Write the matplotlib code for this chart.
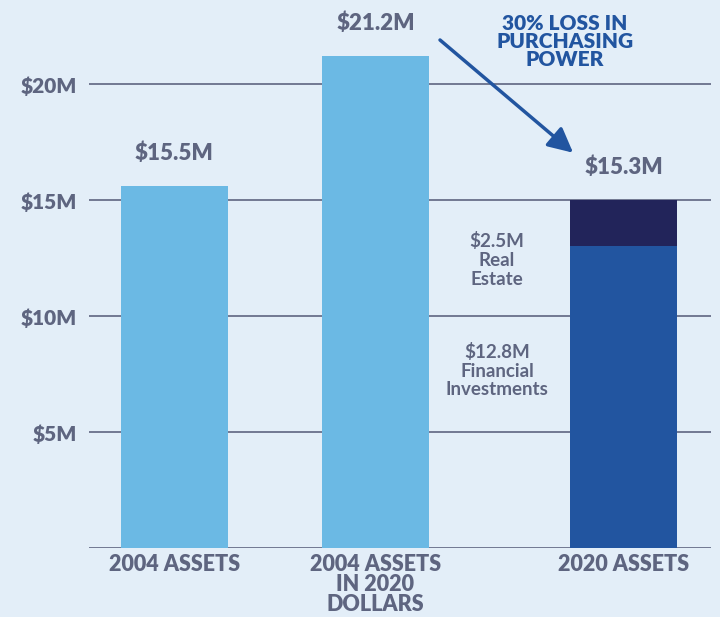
import matplotlib.pyplot as plt

# bar heights as drawn (in $M)
categories = ['2004 ASSETS', '2004 ASSETS\nIN 2020\nDOLLARS', '2020 ASSETS']
x_pos = [0, 1, 2.234]
financial = [15.62, 21.22, 13.03]
real_estate = [0, 0, 1.97]
total_labels = ['$15.5M', '$21.2M', '$15.3M']
y_ticks = [5, 10, 15, 20]
y_tick_labels = ['$5M', '$10M', '$15M', '$20M']

bg = '#e3eef8'
gray = '#5e6580'
light_blue = '#6bb9e4'
dark_blue = '#2255a0'
navy = '#22245a'

plt.rcParams['font.family'] = ['Lato', 'DejaVu Sans']

fig = plt.figure(figsize=(7.2, 6.17), dpi=100, facecolor=bg)
ax = fig.add_axes([89 / 720, 1 - 548.3 / 617, (711 - 89) / 720, 548.3 / 617])
ax.set_facecolor(bg)

colors = [light_blue, light_blue, dark_blue]
ax.bar(x_pos, financial, width=0.532, color=colors, zorder=2)
ax.bar(x_pos, real_estate, width=0.532, bottom=financial, color=navy, zorder=2)

ax.set_xlim(-0.425, 2.669)
ax.set_ylim(0, 548.3 / 23.2)

for s in ax.spines.values():
    s.set_visible(False)
ax.axhline(0, color=gray, lw=1.2, zorder=1)
for t in y_ticks:
    ax.axhline(t, color=gray, lw=1.2, zorder=1)

ax.set_yticks(y_ticks)
ax.set_yticklabels(y_tick_labels, fontsize=15, fontweight='heavy', color=gray)
ax.set_xticks(x_pos)
ax.set_xticklabels(categories, fontsize=15.5, fontweight='heavy', color=gray,
                   linespacing=0.96)
ax.tick_params(length=0)
ax.tick_params(axis='y', pad=9)
ax.tick_params(axis='x', pad=4)

for x, f, r, lab in zip(x_pos, financial, real_estate, total_labels):
    ax.annotate(lab, (x, f + r), xytext=(0, 16), textcoords='offset points',
                ha='center', va='bottom', fontsize=16, fontweight='heavy', color=gray)

ax.text(1.604, 12.43, '$2.5M\nReal\nEstate', ha='center', va='center',
        fontsize=13.5, fontweight='bold', color=gray, linespacing=1.12)
ax.text(1.604, 7.65, '$12.8M\nFinancial\nInvestments', ha='center', va='center',
        fontsize=13.5, fontweight='bold', color=gray, linespacing=1.12)

ax.text(1.943, 23.05, '30% LOSS IN\nPURCHASING\nPOWER', ha='center', va='top',
        fontsize=15, fontweight='heavy', color=dark_blue, linespacing=0.95)
ax.annotate('', xy=(1.983, 17.05), xytext=(1.321, 21.91),
            arrowprops=dict(arrowstyle='-|>,head_length=1.5,head_width=0.75',
                            color=dark_blue, lw=2.5, shrinkA=0, shrinkB=0))

fig.savefig('out.png', dpi=100, facecolor=bg)
